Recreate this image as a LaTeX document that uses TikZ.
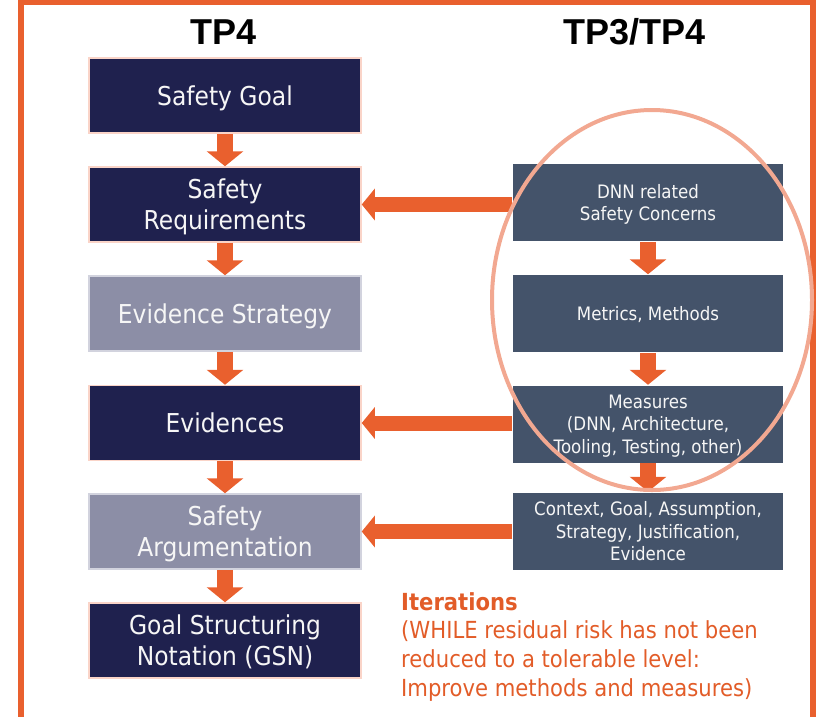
\documentclass[tikz,border=0pt]{standalone}
\usepackage{fontspec}
\setmainfont{DejaVu Sans}[FakeStretch=0.9]
\newfontfamily\headfont{Liberation Sans}
\usetikzlibrary{arrows.meta}

\definecolor{accent}{RGB}{233,96,46}
\definecolor{navybox}{RGB}{31,33,78}
\definecolor{navyedge}{RGB}{250,212,200}
\definecolor{lavbox}{RGB}{140,142,166}
\definecolor{lavedge}{RGB}{210,211,222}
\definecolor{slatebox}{RGB}{68,83,106}
\definecolor{boxtext}{RGB}{246,246,246}
\definecolor{loopclr}{RGB}{242,168,145}
\definecolor{iterclr}{RGB}{226,92,40}

\begin{document}
\begin{tikzpicture}[x=1pt,y=-1pt,
  box/.style={draw, line width=1.5pt, minimum width=272pt, minimum height=75pt,
    inner sep=0pt, text depth=0pt, align=center, text=boxtext,
    font=\fontsize{26}{31}\selectfont},
  navy/.style={box, fill=navybox, draw=navyedge},
  lav/.style={box, fill=lavbox, draw=lavedge},
  slate/.style={box, fill=slatebox, draw=none, minimum width=270pt, minimum height=77pt,
    font=\fontsize{18.5}{22.5}\selectfont},
  title/.style={font=\headfont\bfseries\fontsize{36}{36}\selectfont, anchor=base, inner sep=0pt},
  downarrow/.style={draw=accent, line width=16pt, -{Triangle[width=36pt,length=15pt]}},
  sidearrow/.style={draw=accent, line width=15pt, -{Triangle[width=31pt,length=13pt]}},
]
\useasboundingbox (0,0) rectangle (818,716);

% outer frame, open at the bottom
\draw[accent, line width=6pt] (21,722) -- (21,2) -- (812.5,2) -- (812.5,722);

% column headings
\node[title] (tp4) at (224,44) {TP4};
\node[title] (tp34) at (634.5,44) {TP3/TP4};

% left column
\node[navy] (sg)  at (225,95.5)  {Safety Goal};
\node[navy] (sr)  at (225,204.5) {Safety\\Requirements};
\node[lav]  (es)  at (225,313.5) {Evidence Strategy};
\node[navy] (ev)  at (225,423)   {Evidences};
\node[lav]  (sa)  at (225,531.5) {Safety\\Argumentation};
\node[navy] (gsn) at (225,640.5) {Goal Structuring\\Notation (GSN)};

% right column
\node[slate] (dnn)  at (648,202.5) {DNN related\\Safety Concerns};
\node[slate] (mm)   at (648,313.5) {Metrics, Methods};
\node[slate] (meas) at (648,424)   {Measures\\(DNN, Architecture,\\Tooling, Testing, other)};
\node[slate] (ctx)  at (648,531)   {Context, Goal, Assumption,\\Strategy, Justification,\\Evidence};

% vertical flow
\draw[downarrow] (sg.south) -- (sr.north);
\draw[downarrow] (sr.south) -- (es.north);
\draw[downarrow] (es.south) -- (ev.north);
\draw[downarrow] (ev.south) -- (sa.north);
\draw[downarrow] (sa.south) -- (gsn.north);
\draw[downarrow] (dnn.south) -- (mm.north);
\draw[downarrow] (mm.south) -- (meas.north);
\draw[downarrow] (meas.south) -- (ctx.north);

% contributions from TP3 into TP4
\draw[sidearrow] (dnn.west |- sr.east) -- (sr.east);
\draw[sidearrow] (meas.west |- ev.east) -- (ev.east);
\draw[sidearrow] (ctx.west |- sa.east) -- (sa.east);

% iteration loop
\draw[loopclr, line width=4pt] (652,300) ellipse [x radius=160pt, y radius=190pt];

% iteration note
\node[anchor=north west, align=left, inner sep=0pt, text=iterclr,
  font=\fontsize{23.5}{28.7}\selectfont] (iter) at (401,592)
  {\textbf{Iterations}\\(WHILE residual risk has not been\\reduced to a tolerable level:\\Improve methods and measures)};
\end{tikzpicture}
\end{document}
